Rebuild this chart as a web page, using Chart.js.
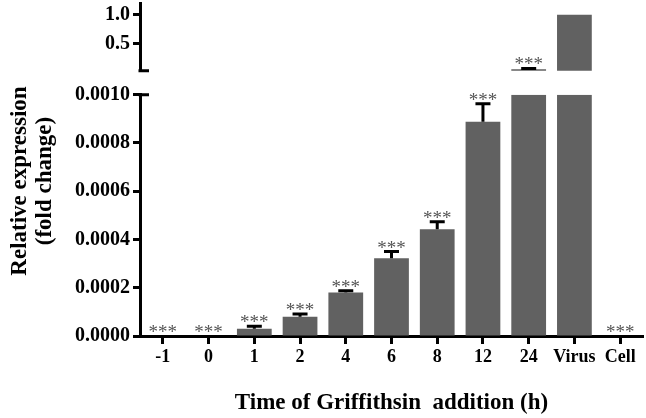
<!DOCTYPE html>
<html><head><meta charset="utf-8">
<script src="https://cdn.jsdelivr.net/npm/chart.js@4/dist/chart.umd.min.js"></script>
<style>html,body{margin:0;padding:0;background:#fff;overflow:hidden}</style>
</head><body>
<canvas id="c" width="646" height="418"></canvas>
<script>
const categories = ['-1', '0', '1', '2', '4', '6', '8', '12', '24', 'Virus', 'Cell'];
const values = [0, 0, 0.000030, 0.000080, 0.000180, 0.000322, 0.000442, 0.000888, 0.06, 1.0, 0];
const errors = [0, 0, 0.000010, 0.000011, 0.000008, 0.000028, 0.000032, 0.000075, 0.015, 0, 0];
const significance = ['***', '***', '***', '***', '***', '***', '***', '***', '***', '', '***'];
const lowerTicks = [0, 0.0002, 0.0004, 0.0006, 0.0008, 0.0010];
const upperTicks = [0.5, 1.0];
const lowerRange = [0, 0.001];
const upperRange = [0.034, 1.2];

const FONT = "'Liberation Serif', 'Times New Roman', serif";
const BAR = '#616161';

const lowerData = values.map(v => Math.min(v, lowerRange[1]));
const upperData = values.map(v => v > lowerRange[1] ? v : null);

const noPad = s => { s.paddingTop = 0; s.paddingBottom = 0; s.paddingLeft = 0; s.paddingRight = 0; };

const decor = {
  id: 'decor',
  afterDatasetsDraw(chart) {
    const ctx = chart.ctx;
    const xs = chart.scales.x, lo = chart.scales.yLow, hi = chart.scales.yTop;
    ctx.save();
    values.forEach((v, i) => {
      const e = errors[i];
      const sc = v > lowerRange[1] ? hi : lo;
      const x = xs.getPixelForValue(i);
      const y0 = sc.getPixelForValue(v);
      const y1 = sc.getPixelForValue(v + e);
      if (e > 0) {
        ctx.strokeStyle = '#000';
        ctx.lineWidth = 3;
        ctx.beginPath();
        ctx.moveTo(x, y0); ctx.lineTo(x, y1);
        ctx.moveTo(x - 7.5, y1); ctx.lineTo(x + 7.5, y1);
        ctx.stroke();
      }
      if (significance[i]) {
        ctx.fillStyle = '#555';
        ctx.font = '19px ' + FONT;
        ctx.textAlign = 'center';
        ctx.textBaseline = 'alphabetic';
        ctx.fillText(significance[i], x, Math.min(y1, y0) + 2);
      }
    });
    ctx.strokeStyle = '#000';
    ctx.lineWidth = 3;
    const ax = lo.right;
    ctx.beginPath();
    ctx.moveTo(ax - 1.5, hi.bottom); ctx.lineTo(ax + 9, hi.bottom);
    ctx.moveTo(ax - 1.5, lo.top); ctx.lineTo(ax + 9, lo.top);
    ctx.stroke();
    ctx.fillStyle = '#000';
    ctx.font = 'bold 23px ' + FONT;
    ctx.textAlign = 'center';
    ctx.textBaseline = 'middle';
    ctx.translate(20, 181);
    ctx.rotate(-Math.PI / 2);
    ctx.fillText('Relative expression', 0, 0);
    ctx.fillText('(fold change)', 0, 25);
    ctx.restore();
  }
};

const yCommon = (min, max, ticksArr, digits) => ({
  type: 'linear', position: 'left', stack: 'v', min, max,
  afterBuildTicks(s) { s.ticks = ticksArr.map(v => ({ value: v })); },
  afterFit(s) { s.width = 140; noPad(s); },
  ticks: { callback: v => Number(v).toFixed(digits), color: '#000', padding: 3,
           font: { family: FONT, size: 20, weight: 'bold' } },
  grid: { drawOnChartArea: false, drawTicks: true, tickLength: 7, tickWidth: 3, tickColor: '#000' },
  border: { display: true, color: '#000', width: 3 }
});

new Chart(document.getElementById('c'), {
  type: 'bar',
  data: {
    labels: categories,
    datasets: [
      { data: lowerData, yAxisID: 'yLow', backgroundColor: BAR, grouped: false,
        categoryPercentage: 1, barPercentage: 0.76 },
      { data: upperData, yAxisID: 'yTop', backgroundColor: BAR, grouped: false,
        categoryPercentage: 1, barPercentage: 0.76 }
    ]
  },
  options: {
    responsive: false, animation: false, devicePixelRatio: 1,
    layout: { padding: { top: 3, right: 3, left: 0, bottom: 0 } },
    plugins: { legend: { display: false }, tooltip: { enabled: false } },
    scales: {
      x: {
        type: 'category', offset: true,
        afterFit(s) { s.height = 82; noPad(s); },
        grid: { display: true, drawOnChartArea: false, offset: false, tickLength: 8, tickWidth: 3, tickColor: '#000' },
        border: { color: '#000', width: 3 },
        ticks: { color: '#000', padding: 3, maxRotation: 0, autoSkip: false,
                 font: { family: FONT, size: 18, weight: 'bold' } },
        title: { display: true, text: 'Time of Griffithsin  addition (h)', color: '#000',
                 padding: { top: 4, bottom: 1 }, font: { family: FONT, size: 23, weight: 'bold' } }
      },
      yTop: Object.assign(yCommon(upperRange[0], upperRange[1], upperTicks, 1), { stackWeight: 68, weight: 3 }),
      yGap: {
        type: 'linear', position: 'left', stack: 'v', stackWeight: 24, weight: 2,
        afterFit(s) { s.width = 140; noPad(s); },
        ticks: { display: false }, grid: { display: false }, border: { display: false }
      },
      yLow: Object.assign(yCommon(lowerRange[0], lowerRange[1], lowerTicks, 4), { stackWeight: 242, weight: 1 })
    }
  },
  plugins: [decor]
});
</script>
</body></html>
